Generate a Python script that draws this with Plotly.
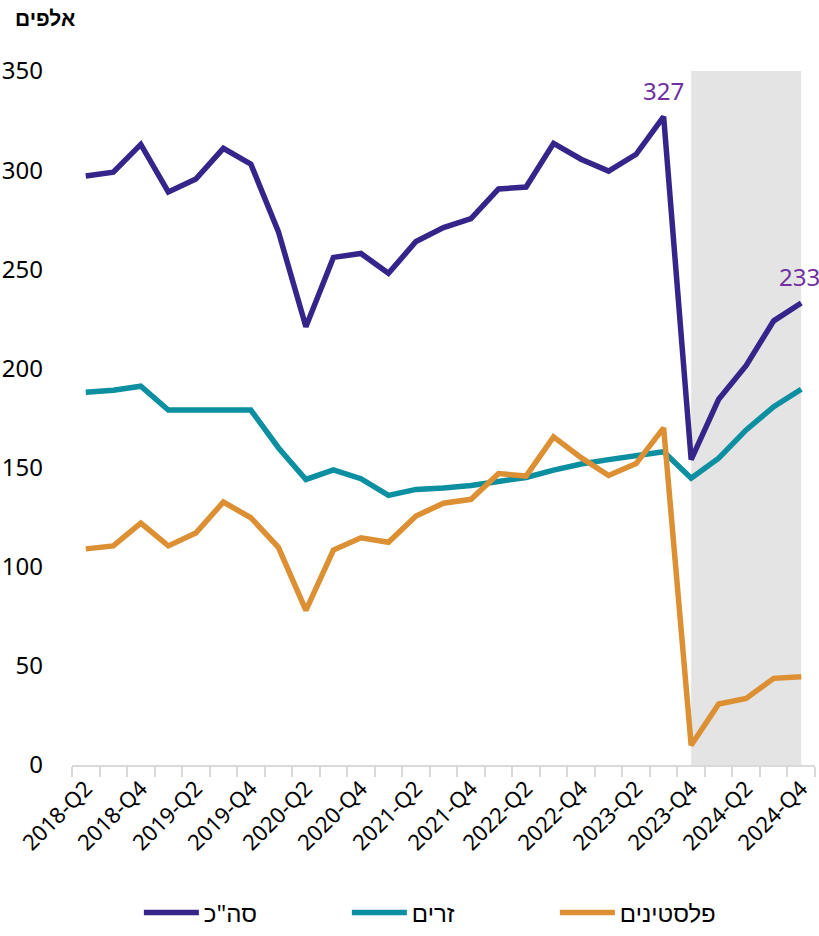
import plotly.graph_objects as go

quarters = [
    "2018-Q2", "2018-Q3", "2018-Q4",
    "2019-Q1", "2019-Q2", "2019-Q3", "2019-Q4",
    "2020-Q1", "2020-Q2", "2020-Q3", "2020-Q4",
    "2021-Q1", "2021-Q2", "2021-Q3", "2021-Q4",
    "2022-Q1", "2022-Q2", "2022-Q3", "2022-Q4",
    "2023-Q1", "2023-Q2", "2023-Q3", "2023-Q4",
    "2024-Q1", "2024-Q2", "2024-Q3", "2024-Q4",
]
total = [297, 299, 313, 289, 295.5, 311, 303, 269, 221, 256, 258, 248, 264, 271,
         275.5, 290.5, 291.5, 313.5, 305.5, 299.5, 308, 327, 154, 184.5, 201.5, 224, 233]
foreign = [188, 189, 191, 179, 179, 179, 179, 160, 144, 148.8, 144.4, 136, 139, 139.7,
           141, 143, 145, 148.7, 151.8, 154, 156, 158, 144.6, 154.7, 169, 180.7, 189.5]
palestinians = [109, 110.5, 122, 110.5, 117, 132.6, 124.7, 109.8, 78, 108.4, 114.6, 112.3,
                125.6, 132, 134, 147, 145.7, 165.5, 155, 146, 152, 170, 10, 30.8, 33.6, 43.7, 44.5]

series_names = ["סה\"כ", "זרים", "פלסטינים"]
series_colors = ["#35258a", "#0b8fa1", "#dc9033"]
y_ticks = [0, 50, 100, 150, 200, 250, 300, 350]
unit_label = "אלפים"
shade_start = "2023-Q4"
shade_end = "2024-Q4"
labelled_points = ["2023-Q3", "2024-Q4"]

FONT = "Noto Sans, Liberation Sans, DejaVu Sans, sans-serif"

fig = go.Figure()
for name, vals, col in zip(series_names, [total, foreign, palestinians], series_colors):
    fig.add_trace(go.Scatter(
        x=quarters, y=vals, name=name, mode="lines",
        line=dict(color=col, width=5.5),
    ))

fig.add_shape(
    type="rect", xref="x", yref="y",
    x0=quarters.index(shade_start), x1=quarters.index(shade_end),
    y0=0, y1=y_ticks[-1], fillcolor="#e4e4e4", line=dict(width=0), layer="below",
)

for q, xs in zip(labelled_points, [0, -2]):
    i = quarters.index(q)
    fig.add_annotation(
        x=i, y=total[i], text=str(round(total[i])), showarrow=False,
        yanchor="bottom", yshift=8, xshift=xs, xanchor="center",
        font=dict(size=24, color="#7030a0", family=FONT),
    )

fig.add_annotation(
    xref="paper", yref="paper", x=-0.08, y=1.077, xanchor="left", yanchor="middle",
    text="<b>" + unit_label + "</b>", showarrow=False,
    font=dict(size=21, color="#000000", family=FONT),
)

fig.update_layout(
    width=819, height=936,
    margin=dict(l=72, r=4, t=71, b=171, autoexpand=False),
    paper_bgcolor="white", plot_bgcolor="white",
    font=dict(family=FONT, color="#000000"),
    showlegend=True,
    legend=dict(
        orientation="h", x=0.09, xanchor="left", y=-0.213, yanchor="middle",
        font=dict(size=24, family=FONT), entrywidth=138, itemwidth=55,
        traceorder="normal",
    ),
    xaxis=dict(
        type="category", range=[-0.5, len(quarters) - 0.5], automargin=False,
        tickmode="array", tickvals=quarters,
        ticktext=[q if k % 2 == 0 else "" for k, q in enumerate(quarters)],
        tickangle=-45, tickfont=dict(size=22, family=FONT),
        tickson="boundaries", ticks="outside", ticklen=10, tickcolor="#d9d9d9", tickwidth=1.5,
        showline=True, linecolor="#d9d9d9", linewidth=2,
        showgrid=False, zeroline=False,
    ),
    yaxis=dict(
        range=[0, y_ticks[-1]], tickmode="array", tickvals=y_ticks, automargin=False,
        tickfont=dict(size=24, family=FONT), ticklabelstandoff=28,
        showgrid=False, zeroline=False, showline=False, ticks="",
    ),
)

fig.write_html(
    "out.html",
    config={"displayModeBar": False},
    post_script="document.body.style.margin='0';document.body.style.overflow='hidden';",
)
